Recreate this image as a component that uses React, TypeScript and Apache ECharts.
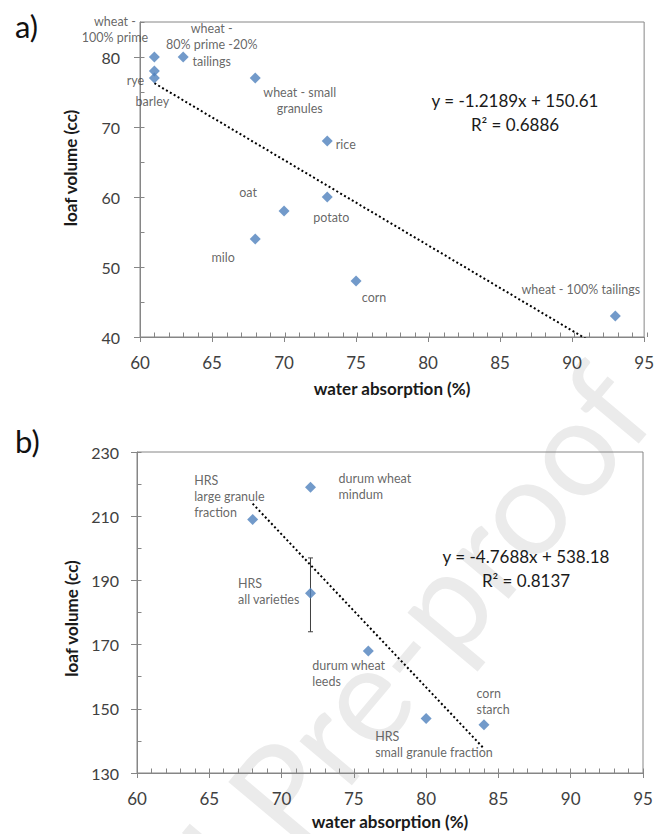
import React, { useEffect, useRef } from "react";
import * as echarts from "echarts";

const FONT = "Lato, 'Open Sans', 'DejaVu Sans', sans-serif";

// ---------- Panel a) ----------
const labelsA = [
  "wheat -\n100% prime",
  "wheat -\n80% prime -20%\ntailings",
  "rye",
  "barley",
  "wheat - small\ngranules",
  "rice",
  "potato",
  "corn",
  "wheat - 100% tailings",
  "oat",
  "milo",
];
const waterA = [61, 63, 61, 61, 68, 73, 73, 75, 93, 70, 68];
const loafA = [80, 80, 78, 77, 77, 68, 60, 48, 43, 58, 54];
const trendXA = [61, 93];
const slopeA = -1.2189;
const interceptA = 150.61;
const equationA = "y = -1.2189x + 150.61\nR² = 0.6886";

// ---------- Panel b) ----------
const labelsB = [
  "HRS\nlarge granule\nfraction",
  "durum wheat\nmindum",
  "HRS\nall varieties",
  "durum wheat\nleeds",
  "HRS\nsmall granule fraction",
  "corn\nstarch",
];
const waterB = [68, 72, 72, 76, 80, 84];
const loafB = [209, 219, 186, 168, 147, 145];
// [x, low, high]
const errorBarsB = [[72, 174, 197]];
const trendXB = [68, 84];
const slopeB = -4.7688;
const interceptB = 538.18;
const equationB = "y = -4.7688x + 538.18\nR² = 0.8137";

const watermark = "Journal Pre-proof";

// label placement (pixel offsets from point centre) – styling only
const offsetsA: [number, number][] = [
  [-39.5, -27.5],
  [28.5, -12.5],
  [-19, 9.5],
  [-2, 23.5],
  [44.5, 22.5],
  [18.5, 3],
  [4, 20.5],
  [18, 16],
  [-34.5, -26.5],
  [-36, -18.5],
  [-32, 18],
];
const offsetsB: [number, number][] = [
  [-58.5, -22.5],
  [28, -0.5],
  [-72.5, -1.5],
  [-56, 22.5],
  [-51, 26.5],
  [-7.5, -23.5],
];

const AXIS = "#868686";
const TXT = "#404040";
const BLUE = "#4F81BD";

export default function App() {
  const ref = useRef<HTMLDivElement>(null);
  useEffect(() => {
    if (!ref.current) return;
    const chart = echarts.init(ref.current, null, { renderer: "svg" });

    const mainX = (gridIndex: number, nameGap: number) => ({
      type: "value",
      gridIndex,
      min: 60,
      max: 95,
      interval: 5,
      axisLine: { show: true, lineStyle: { color: AXIS, width: 1 } },
      axisTick: { show: true, length: 5, lineStyle: { color: AXIS } },
      axisLabel: { fontFamily: FONT, fontSize: 17, color: TXT, margin: 17 },
      splitLine: { show: false },
      name: "water absorption (%)",
      nameLocation: "middle",
      nameGap,
      nameTextStyle: { fontFamily: FONT, fontSize: 17, fontWeight: "bold", color: "#1a1a1a" },
    });
    const mainY = (
      gridIndex: number,
      min: number,
      max: number,
      interval: number,
      nameGap: number,
      margin: number,
      padding: number[],
      showMaxLabel: boolean
    ) => ({
      type: "value",
      gridIndex,
      min,
      max,
      interval,
      axisLine: { show: true, lineStyle: { color: AXIS, width: 1 } },
      axisTick: { show: true, length: 6, lineStyle: { color: AXIS } },
      axisLabel: { fontFamily: FONT, fontSize: 16, color: TXT, margin, showMaxLabel },
      splitLine: { show: false },
      name: "loaf volume (cc)",
      nameLocation: "middle",
      nameGap,
      nameTextStyle: { fontFamily: FONT, fontSize: 17, fontWeight: "bold", color: "#1a1a1a", padding },
    });
    const tickAxis = (gridIndex: number, min: number, max: number, interval: number, split: number) => ({
      type: "value",
      gridIndex,
      min,
      max,
      interval,
      axisLine: { show: false },
      axisLabel: { show: false },
      splitLine: { show: false },
      axisTick: { show: true, inside: true, length: 4.5, lineStyle: { color: AXIS } },
      minorTick: { show: true, splitNumber: split, length: 4.5, lineStyle: { color: AXIS } },
    });

    const gridA = { left: 140, top: 22, width: 507, height: 315 };
    const gridB = { left: 137, top: 452, width: 506, height: 321 };

    const labelStyle = (lh: number) => ({
      show: true,
      formatter: "{b}",
      position: "inside",
      fontFamily: FONT,
      fontSize: 12.5,
      lineHeight: lh,
      color: TXT,
    });

    const option: any = {
      animation: false,
      backgroundColor: "#ffffff",
      grid: [
        { ...gridA, show: true, borderColor: AXIS, borderWidth: 1, backgroundColor: "transparent" },
        { ...gridB, show: true, borderColor: AXIS, borderWidth: 1, backgroundColor: "transparent" },
        { ...gridA, show: false },
        { ...gridB, show: false },
      ],
      xAxis: [
        mainX(0, 43),
        mainX(1, 40),
        tickAxis(2, 60, 95, 5, 5),
        tickAxis(3, 60, 95, 5, 5),
      ],
      yAxis: [
        mainY(0, 40, 85, 10, 61, 20, [0, 0, 0, 23], false),
        mainY(1, 130, 230, 20, 56, 18, [0, 12, 0, 0], true),
        tickAxis(2, 40, 85, 10, 2),
        tickAxis(3, 130, 230, 20, 2),
      ],
      graphic: [
        {
          type: "text",
          x: 672,
          y: 428,
          rotation: (50 * Math.PI) / 180,
          z: -10,
          silent: true,
          style: {
            text: watermark,
            fontFamily: FONT,
            fontSize: 135,
            fill: "#ebebeb",
            textAlign: "right",
            textVerticalAlign: "bottom",
          },
        },
        {
          type: "text",
          x: 15,
          y: 10,
          style: { text: "a)", fontFamily: FONT, fontSize: 31, fill: "#111", textAlign: "left", textVerticalAlign: "top" },
        },
        {
          type: "text",
          x: 15,
          y: 425,
          style: { text: "b)", fontFamily: FONT, fontSize: 31, fill: "#111", textAlign: "left", textVerticalAlign: "top" },
        },
        {
          type: "text",
          x: 515,
          y: 112,
          style: {
            text: equationA,
            fontFamily: FONT,
            fontSize: 17,
            lineHeight: 24,
            fill: "#1a1a1a",
            textAlign: "center",
            textVerticalAlign: "middle",
          },
        },
        {
          type: "text",
          x: 526,
          y: 568,
          style: {
            text: equationB,
            fontFamily: FONT,
            fontSize: 17,
            lineHeight: 24,
            fill: "#1a1a1a",
            textAlign: "center",
            textVerticalAlign: "middle",
          },
        },
      ],
      series: [
        {
          type: "line",
          xAxisIndex: 0,
          yAxisIndex: 0,
          data: trendXA.map((x) => [x, slopeA * x + interceptA]),
          symbol: "none",
          clip: true,
          lineStyle: { color: "#000", width: 2, type: [2, 2.5] },
          silent: true,
          z: 1,
        },
        {
          type: "scatter",
          xAxisIndex: 0,
          yAxisIndex: 0,
          symbol: "diamond",
          symbolSize: 11,
          itemStyle: { color: BLUE },
          label: labelStyle(16.5),
          data: waterA.map((x, i) => ({
            name: labelsA[i],
            value: [x, loafA[i]],
            label: { offset: offsetsA[i], align: "center", verticalAlign: "middle" },
          })),
          z: 3,
        },
        {
          type: "line",
          xAxisIndex: 1,
          yAxisIndex: 1,
          data: trendXB.map((x) => [x, slopeB * x + interceptB]),
          symbol: "none",
          clip: true,
          lineStyle: { color: "#000", width: 2, type: [2, 2.5] },
          silent: true,
          z: 1,
        },
        {
          type: "custom",
          xAxisIndex: 1,
          yAxisIndex: 1,
          data: errorBarsB,
          z: 2,
          renderItem: (params: any, api: any) => {
            const x = api.value(0);
            const lo = api.coord([x, api.value(1)]);
            const hi = api.coord([x, api.value(2)]);
            const w = 2.5;
            const style = { stroke: "#404040", lineWidth: 1 };
            return {
              type: "group",
              children: [
                { type: "line", shape: { x1: lo[0], y1: lo[1], x2: hi[0], y2: hi[1] }, style },
                { type: "line", shape: { x1: lo[0] - w, y1: lo[1], x2: lo[0] + w, y2: lo[1] }, style },
                { type: "line", shape: { x1: hi[0] - w, y1: hi[1], x2: hi[0] + w, y2: hi[1] }, style },
              ],
            };
          },
        },
        {
          type: "scatter",
          xAxisIndex: 1,
          yAxisIndex: 1,
          symbol: "diamond",
          symbolSize: 11,
          itemStyle: { color: BLUE },
          label: labelStyle(16),
          data: waterB.map((x, i) => ({
            name: labelsB[i],
            value: [x, loafB[i]],
            label: { offset: offsetsB[i], align: "left", verticalAlign: "middle" },
          })),
          z: 3,
        },
      ],
    };
    chart.setOption(option);
    return () => chart.dispose();
  }, []);

  return (
    <div
      ref={ref}
      style={{ position: "absolute", left: 0, top: 0, width: 657, height: 834, background: "#fff" }}
    />
  );
}
